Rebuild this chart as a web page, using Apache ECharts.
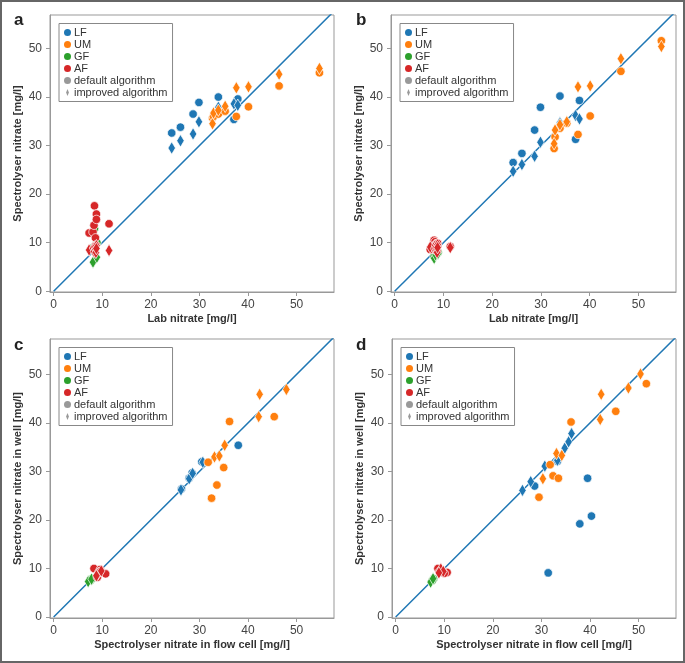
<!DOCTYPE html>
<html>
<head>
<meta charset="utf-8">
<script src="https://cdn.jsdelivr.net/npm/echarts@6/dist/echarts.min.js"></script>
<style>
  html, body { margin: 0; padding: 0; background: #fff; }
  #chart { width: 685px; height: 663px; box-sizing: border-box; border: 2px solid #666; }
</style>
</head>
<body>
<div id="chart"></div>
<script>
// ---------- categories / labels ----------
const groups = ['LF', 'UM', 'GF', 'AF'];
const algorithms = ['default algorithm', 'improved algorithm'];
const panelLetters = ['a', 'b', 'c', 'd'];
const tickValues = [0, 10, 20, 30, 40, 50];
const xNames = ['Lab nitrate [mg/l]', 'Lab nitrate [mg/l]',
  'Spectrolyser nitrate in flow cell [mg/l]', 'Spectrolyser nitrate in flow cell [mg/l]'];
const yNames = ['Spectrolyser nitrate [mg/l]', 'Spectrolyser nitrate [mg/l]',
  'Spectrolyser nitrate in well [mg/l]', 'Spectrolyser nitrate in well [mg/l]'];

// ---------- panel a / b : lab nitrate (x) ----------
const lfLab = [24.3, 26.1, 28.7, 29.9, 33.9, 37.1, 37.9];
const umLab = [32.7, 32.9, 33.9, 35.3, 37.6, 40.1, 46.4, 54.7];
const gfLab = [8.1, 8.4, 8.9];
const afLab = [7.3, 8.1, 8.3, 8.4, 8.6, 8.7, 8.8, 8.8, 11.4];

// panel a : spectrolyser (y)
const aLfDefault  = [32.6, 33.8, 36.5, 38.9, 40.0, 35.4, 39.6];
const aLfImproved = [29.5, 31.0, 32.4, 34.9, 37.9, 38.6, 38.3];
const aUmDefault  = [35.7, 36.0, 36.5, 37.1, 36.0, 38.0, 42.3, 45.0];
const aUmImproved = [34.5, 36.7, 37.3, 38.1, 41.9, 42.1, 44.7, 45.9];
const aGfDefault  = [9.0, 12.9, 10.0];
const aGfImproved = [6.0, 8.0, 7.0];
const aAfDefault  = [12.0, 12.2, 13.6, 17.6, 11.0, 9.5, 15.9, 14.8, 13.9];
const aAfImproved = [8.5, 8.9, 8.2, 9.1, 8.6, 8.0, 9.4, 8.8, 8.4];

// panel b : spectrolyser (y)
const bLfDefault  = [26.5, 28.4, 33.2, 37.9, 40.2, 31.3, 39.3];
const bLfImproved = [24.7, 26.1, 27.8, 30.7, 34.7, 36.2, 35.5];
const bUmDefault  = [29.4, 31.8, 33.6, 34.6, 32.3, 36.1, 45.3, 51.6];
const bUmImproved = [30.4, 33.2, 34.3, 34.9, 42.1, 42.3, 47.9, 50.4];
const bGfDefault  = [7.2, 8.3, 8.0];
const bGfImproved = [6.8, 7.5, 7.8];
const bAfDefault  = [8.6, 10.5, 10.2, 9.6, 9.8, 8.4, 9.9, 9.3, 9.2];
const bAfImproved = [9.1, 8.8, 9.4, 8.9, 8.5, 8.0, 9.6, 9.0, 9.0];

// ---------- panel c / d : [flow cell, well] ----------
const cLfDefault  = [[28.5, 29.7], [38.0, 35.4], [30.5, 32.0], [27.9, 28.6], [26.3, 26.4]];
const cLfImproved = [[26.2, 26.2], [27.9, 28.5], [30.7, 31.9], [28.6, 29.6]];
const cUmDefault  = [[32.5, 24.5], [33.6, 27.2], [35.0, 30.8], [31.8, 31.9], [36.2, 40.3], [45.4, 41.3]];
const cUmImproved = [[33.1, 33.0], [34.1, 33.2], [35.2, 35.4], [42.2, 41.3], [42.4, 45.9], [47.9, 46.9]];
const cGfDefault  = [[7.6, 7.6], [8.0, 8.0]];
const cGfImproved = [[7.1, 7.3], [7.8, 7.8]];
const cAfDefault  = [[8.3, 10.0], [9.6, 9.8], [10.7, 8.9], [9.0, 8.2], [9.3, 9.2]];
const cAfImproved = [[9.2, 9.0], [9.8, 9.5], [8.8, 8.5]];

const dLfDefault  = [[31.4, 9.1], [37.9, 19.2], [40.3, 20.8], [39.5, 28.6], [28.6, 27.0], [33.3, 32.1]];
const dLfImproved = [[26.1, 26.1], [27.8, 27.9], [30.7, 31.1], [33.3, 32.3], [34.8, 34.8], [35.6, 36.1], [36.2, 37.8]];
const dUmDefault  = [[29.5, 24.7], [32.4, 29.1], [33.5, 28.6], [31.8, 31.4], [36.1, 40.2], [45.3, 42.4], [51.6, 48.1]];
const dUmImproved = [[30.3, 28.5], [33.1, 33.7], [34.2, 33.3], [42.1, 40.7], [42.3, 45.9], [47.9, 47.2], [50.4, 50.1]];
const dGfDefault  = [[7.8, 7.9], [7.5, 7.5]];
const dGfImproved = [[7.2, 7.2], [7.7, 7.9]];
const dAfDefault  = [[8.7, 10.0], [9.5, 9.6], [10.6, 9.2], [9.0, 9.3], [10.0, 9.0]];
const dAfImproved = [[9.3, 9.9], [9.8, 9.4], [8.9, 9.1]];

const identityLine = [[0, 0], [60, 60]];

// ---------- styling ----------
const colors = { LF: '#1f77b4', UM: '#ff7f0e', GF: '#2ca02c', AF: '#d62728' };
const gray = '#7f7f7f';
const diamondPath = 'path://M0,-10 L4,0 L0,10 L-4,0 Z';
const FONT = 'Liberation Sans, Arial, Helvetica, sans-serif';

const zip = (xs, ys) => xs.map((x, i) => [x, ys[i]]);

const panelData = [
  { LF: [zip(lfLab, aLfDefault), zip(lfLab, aLfImproved)],
    UM: [zip(umLab, aUmDefault), zip(umLab, aUmImproved)],
    GF: [zip(gfLab, aGfDefault), zip(gfLab, aGfImproved)],
    AF: [zip(afLab, aAfDefault), zip(afLab, aAfImproved)] },
  { LF: [zip(lfLab, bLfDefault), zip(lfLab, bLfImproved)],
    UM: [zip(umLab, bUmDefault), zip(umLab, bUmImproved)],
    GF: [zip(gfLab, bGfDefault), zip(gfLab, bGfImproved)],
    AF: [zip(afLab, bAfDefault), zip(afLab, bAfImproved)] },
  { LF: [cLfDefault, cLfImproved], UM: [cUmDefault, cUmImproved],
    GF: [cGfDefault, cGfImproved], AF: [cAfDefault, cAfImproved] },
  { LF: [dLfDefault, dLfImproved], UM: [dUmDefault, dUmImproved],
    GF: [dGfDefault, dGfImproved], AF: [dAfDefault, dAfImproved] }
];

const grids = [
  { left: 48, top: 13, width: 284, height: 277 },
  { left: 389, top: 13, width: 285, height: 277 },
  { left: 48, top: 337, width: 284, height: 279 },
  { left: 390, top: 337, width: 284, height: 279 }
];
const yRanges = [[-0.15, 56.9], [-0.15, 56.9], [-0.2, 57.3], [-0.2, 57.3]];

const axisCommon = {
  type: 'value',
  splitLine: { show: false },
  axisLine: { show: true, onZero: false, lineStyle: { color: '#999', width: 1 } },
  axisTick: { show: true, length: 4, lineStyle: { color: '#999' }, customValues: tickValues },
  axisLabel: { color: '#444', fontSize: 12, fontFamily: FONT, customValues: tickValues },
  nameLocation: 'middle',
  nameTextStyle: { color: '#333', fontSize: 11, fontWeight: 'bold', fontFamily: FONT }
};

const xAxes = grids.map((g, i) => Object.assign({}, axisCommon, {
  gridIndex: i, min: -0.75, max: 57.7, name: xNames[i], nameGap: 21,
  axisLabel: Object.assign({}, axisCommon.axisLabel, { margin: 7 })
}));
const yAxes = grids.map((g, i) => Object.assign({}, axisCommon, {
  gridIndex: i, min: yRanges[i][0], max: yRanges[i][1], name: yNames[i], nameGap: 27,
  axisLabel: Object.assign({}, axisCommon.axisLabel, { margin: 8 })
}));

const series = [];
grids.forEach((g, i) => {
  series.push({
    type: 'line', xAxisIndex: i, yAxisIndex: i, data: identityLine,
    symbol: 'none', silent: true, z: 1, clip: true,
    lineStyle: { color: colors.LF, width: 1.5 }
  });
  groups.forEach(grp => {
    const [def, imp] = panelData[i][grp];
    series.push({
      name: grp, type: 'scatter', xAxisIndex: i, yAxisIndex: i, data: def, z: 2,
      symbol: 'circle', symbolSize: 8.5,
      itemStyle: { color: colors[grp], borderColor: '#fff', borderWidth: 0.7, opacity: 1 }
    });
    series.push({
      name: grp, type: 'scatter', xAxisIndex: i, yAxisIndex: i, data: imp, z: 2,
      symbol: diamondPath, symbolSize: [7.5, 12.5],
      itemStyle: { color: colors[grp], borderColor: '#fff', borderWidth: 0.7, opacity: 1 }
    });
  });
});
// legend-only entries for marker shapes
series.push({ name: algorithms[0], type: 'scatter', xAxisIndex: 0, yAxisIndex: 0, data: [],
  symbol: 'circle', itemStyle: { color: gray } });
series.push({ name: algorithms[1], type: 'scatter', xAxisIndex: 0, yAxisIndex: 0, data: [],
  symbol: diamondPath, itemStyle: { color: gray } });

const legendData = groups.map(n => ({ name: n, icon: 'circle' }))
  .concat([{ name: algorithms[0], icon: 'circle' }, { name: algorithms[1], icon: diamondPath }]);

const legends = grids.map(g => ({
  orient: 'vertical', left: g.left + 9, top: g.top + 8.5,
  data: legendData, selectedMode: false,
  backgroundColor: '#fff', borderColor: '#888', borderWidth: 1, borderRadius: 0,
  padding: [3, 5, 3, 5], itemGap: 0, itemWidth: 7, itemHeight: 7,
  itemStyle: { borderWidth: 0 },
  textStyle: { color: '#333', fontSize: 11, fontFamily: FONT, lineHeight: 12, padding: [0, 0, 0, -2] }
}));

const graphics = grids.map((g, i) => ({
  type: 'text', left: 12, top: (i < 2 ? 10 : 335),
  style: { text: panelLetters[i], fontSize: 17, fontWeight: 'bold', fontFamily: FONT, fill: '#222' }
}));
graphics[1].left = 354;
graphics[3].left = 354;

const chart = echarts.init(document.getElementById('chart'), null, { renderer: 'canvas' });
chart.setOption({
  animation: false,
  backgroundColor: '#fff',
  grid: grids.map(g => Object.assign({ show: true, borderColor: '#999', borderWidth: 1, backgroundColor: 'transparent' }, g)),
  xAxis: xAxes,
  yAxis: yAxes,
  legend: legends,
  graphic: graphics,
  series: series
});
</script>
</body>
</html>
